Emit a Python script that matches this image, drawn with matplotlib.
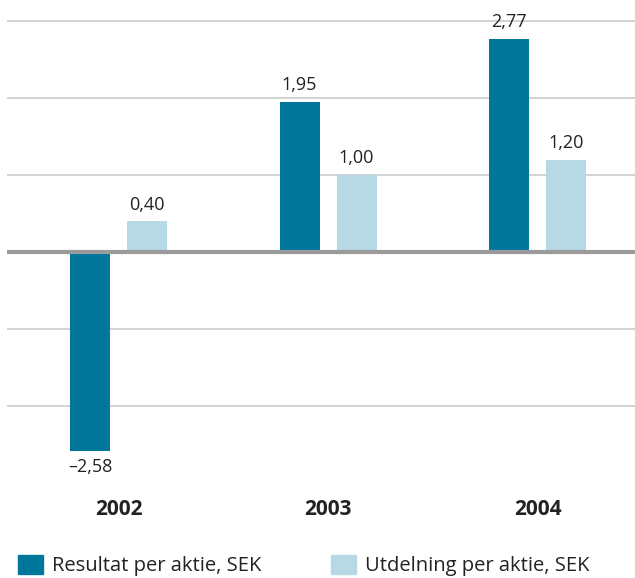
import matplotlib.pyplot as plt
from matplotlib.patches import Patch

years = ["2002", "2003", "2004"]
resultat = [-2.58, 1.95, 2.77]
utdelning = [0.40, 1.00, 1.20]
series_names = ["Resultat per aktie, SEK", "Utdelning per aktie, SEK"]
gridlines = [-2, -1, 1, 2, 3]

DARK = "#00769a"
LIGHT = "#b7d9e6"
TEXT = "#222222"


def fmt(v):
    s = f"{abs(v):.2f}".replace(".", ",")
    return ("\u2013" + s) if v < 0 else s


plt.rcParams["font.family"] = ["Open Sans", "DejaVu Sans"]

fig = plt.figure(figsize=(6.35, 5.78), dpi=100)
ax = fig.add_axes([7 / 635, 0, 628 / 635, 1])
ax.set_xlim(-0.532, 2.465)
ax.set_ylim(-4.234, 3.273)
ax.axis("off")

for g in gridlines:
    ax.axhline(g, color="#cfcfcf", lw=1.3, zorder=0)

width = 0.191
offsets = [-0.136, 0.136]
for i, (yr, r, u) in enumerate(zip(years, resultat, utdelning)):
    for off, v, c in ((offsets[0], r, DARK), (offsets[1], u, LIGHT)):
        x = i + off
        ax.bar(x, v, width=width, color=c, zorder=2)
        if v >= 0:
            ax.text(x, v + 0.1, fmt(v), ha="center", va="bottom", fontsize=13, color=TEXT)
        else:
            ax.text(x, v - 0.1, fmt(v), ha="center", va="top", fontsize=13, color=TEXT)
    ax.text(i, -3.35, yr, ha="center", va="center", fontsize=15,
            fontweight="bold", color=TEXT)

ax.axhline(0, color="#9a9a9a", lw=3, zorder=3)

handles = [Patch(color=DARK, label=series_names[0]),
           Patch(color=LIGHT, label=series_names[1])]
fig.legend(handles=handles, loc="center left", bbox_to_anchor=(18 / 635, 12.5 / 578),
           ncol=2, frameon=False, fontsize=14.5, handlelength=1.24, handleheight=1.14,
           handletextpad=0.45, columnspacing=3.45, borderpad=0, borderaxespad=0,
           labelcolor=TEXT)

fig.savefig("out.png", dpi=100)
